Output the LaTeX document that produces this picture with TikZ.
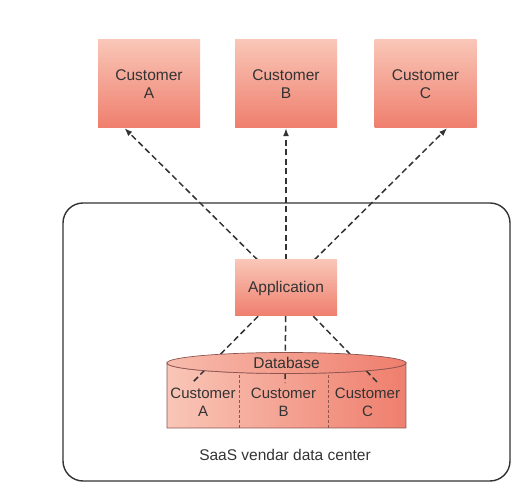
\documentclass[tikz,border=0pt]{standalone}
\usepackage{fontspec}
\setmainfont{Liberation Sans}
\usetikzlibrary{arrows.meta}
\usetikzlibrary{shapes.geometric}
\pgfdeclarelayer{bodylayer}
\pgfdeclarelayer{edgelayer}
\pgfdeclarelayer{nodelayer}
\pgfsetlayers{bodylayer,edgelayer,nodelayer,main}
\definecolor{boxlight}{HTML}{F9C6B7}
\definecolor{boxdark}{HTML}{EF7E6D}
\definecolor{textgray}{HTML}{333333}
\definecolor{linegray}{HTML}{333333}
\definecolor{dbedge}{HTML}{8E5450}
\tikzstyle{customer}=[rectangle,minimum width=102pt,minimum height=88pt,inner sep=0pt,top color=boxlight,bottom color=boxdark,text=textgray,align=center,font=\fontsize{15.5}{18}\selectfont]
\tikzstyle{application}=[rectangle,minimum width=102pt,minimum height=56pt,inner sep=0pt,top color=boxlight,bottom color=boxdark,text=textgray,font=\fontsize{15.5}{18}\selectfont]
\tikzstyle{dbtop}=[ellipse,minimum width=239pt,minimum height=21pt,inner sep=0pt,left color=boxlight!85!boxdark,right color=boxdark,draw=dbedge,line width=0.7pt,text=textgray,font=\fontsize{15.5}{18}\selectfont]
\tikzstyle{tenant}=[inner sep=0pt,align=center,text=textgray,font=\fontsize{15}{18}\selectfont]
\tikzstyle{access}=[-{Latex[length=8pt,width=6pt]},dash pattern=on 6pt off 3.5pt,line width=1.5pt,draw=linegray]
\tikzstyle{query}=[dash pattern=on 6pt off 3.5pt,line width=1.5pt,draw=linegray]
\tikzstyle{divider}=[dash pattern=on 3pt off 2pt,line width=0.6pt,draw=dbedge]

\begin{document}
\begin{tikzpicture}[x=1pt,y=1pt]
	\useasboundingbox (0, 0) rectangle (532, 492);
	\begin{pgfonlayer}{nodelayer}
		\node [style=customer] (0) at (149, 408) {Customer\\A};
		\node [style=customer] (1) at (286, 408) {Customer\\B};
		\node [style=customer] (2) at (425.5, 408) {Customer\\C};
		\node [style=application] (3) at (286, 204) {Application};
		\node [style=dbtop] (4) at (286.5, 129) {Database};
		\node [style=tenant] (5) at (203, 90) {Customer\\A};
		\node [style=tenant] (6) at (283.5, 90) {Customer\\B};
		\node [style=tenant] (7) at (367.5, 90) {Customer\\C};
		\node [text=textgray,font=\fontsize{15.5}{18}\selectfont] (8) at (285, 37) {SaaS vendar data center};
		\coordinate (9) at (192, 109);
		\coordinate (10) at (285, 109);
		\coordinate (11) at (378, 109);
	\end{pgfonlayer}
	\begin{pgfonlayer}{bodylayer}
		% vendor data center frame
		\draw [rounded corners=20pt,line width=1.4pt,draw=linegray] (63, 11) rectangle (510, 289);
		% database body
		\draw [left color=boxlight,right color=boxdark,draw=dbedge,line width=0.7pt] (167, 129) -- (167, 64) -- (406, 64) -- (406, 129) arc [start angle=0, end angle=-180, x radius=119.5, y radius=10.5] -- cycle;
		\draw [style=divider] (239, 64) -- (239, 129);
		\draw [style=divider] (328, 64) -- (328, 129);
	\end{pgfonlayer}
	\begin{pgfonlayer}{edgelayer}
		\draw [style=access] (3) to (0.-119);
		\draw [style=access] (3) to (1);
		\draw [style=access] (3) to (2.-64);
		\draw [style=query] (3) to (9);
		\draw [style=query] (3) to (10);
		\draw [style=query] (3) to (11);
	\end{pgfonlayer}
\end{tikzpicture}
\end{document}
